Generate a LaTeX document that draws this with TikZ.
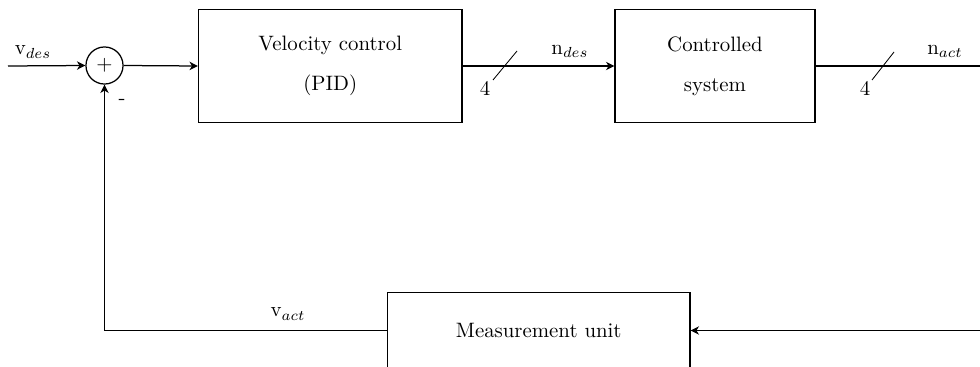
\documentclass[tikz,border=0pt]{standalone}
\usepackage{amsmath,amssymb}
\usepackage{tikz}
\usetikzlibrary{arrows.meta}

\tikzset{
  block/.style={draw, align=center, inner sep=0pt},
  sumnode/.style={draw, circle, minimum size=17.8pt, inner sep=0pt},
}

\begin{document}
\begin{tikzpicture}[x=0.48pt,y=-0.48pt,line width=0.6pt,
    >={Stealth[length=4pt,width=4pt,inset=1.2pt]}]
  \useasboundingbox (0,0) rectangle (980,367);

  % Draw the blocks
  \node[sumnode] (sum) at (104.5,65.5) {$+$};
  \node[block, minimum width=126.5pt, minimum height=54.5pt] (pid) at (330.25,66)
    {Velocity control\\[7pt](PID)};
  \node[block, minimum width=96pt, minimum height=54.5pt] (plant) at (715,66)
    {Controlled\\[7pt]system};
  \node[block, minimum width=145.2pt, minimum height=36.5pt] (meas) at (538.75,330.5)
    {Measurement unit};

  % Coordinates for the loop
  \coordinate (in) at (8,66);
  \coordinate (out) at (995,66);
  \coordinate (back) at (995,330.5);
  \coordinate (corner) at (104.5,330.5);

  % Draw the forward path
  \draw[->] (in) -- (sum.west);
  \draw[->] (sum.east) -- (pid.west);
  \draw[->] (pid.east) -- (plant.west);
  \draw (plant.east) -- (out);

  % Draw the feedback path
  \draw[->] (out) -- (back) -- (meas.east |- back);
  \draw[->] (meas.west |- corner) -- (corner) -- (sum.south);

  % Bus width marks
  \draw[line width=0.4pt] (493,80) -- (517,51);
  \node at (485,88) {4};
  \draw[line width=0.4pt] (872,80) -- (894,52);
  \node at (865,88) {4};

  % Signal labels
  \node at (33,52) {v$_{des}$};
  \node at (570,51) {n$_{des}$};
  \node at (945,51) {n$_{act}$};
  \node at (288,314) {v$_{act}$};
  \node at (122,102) {-};
\end{tikzpicture}
\end{document}
